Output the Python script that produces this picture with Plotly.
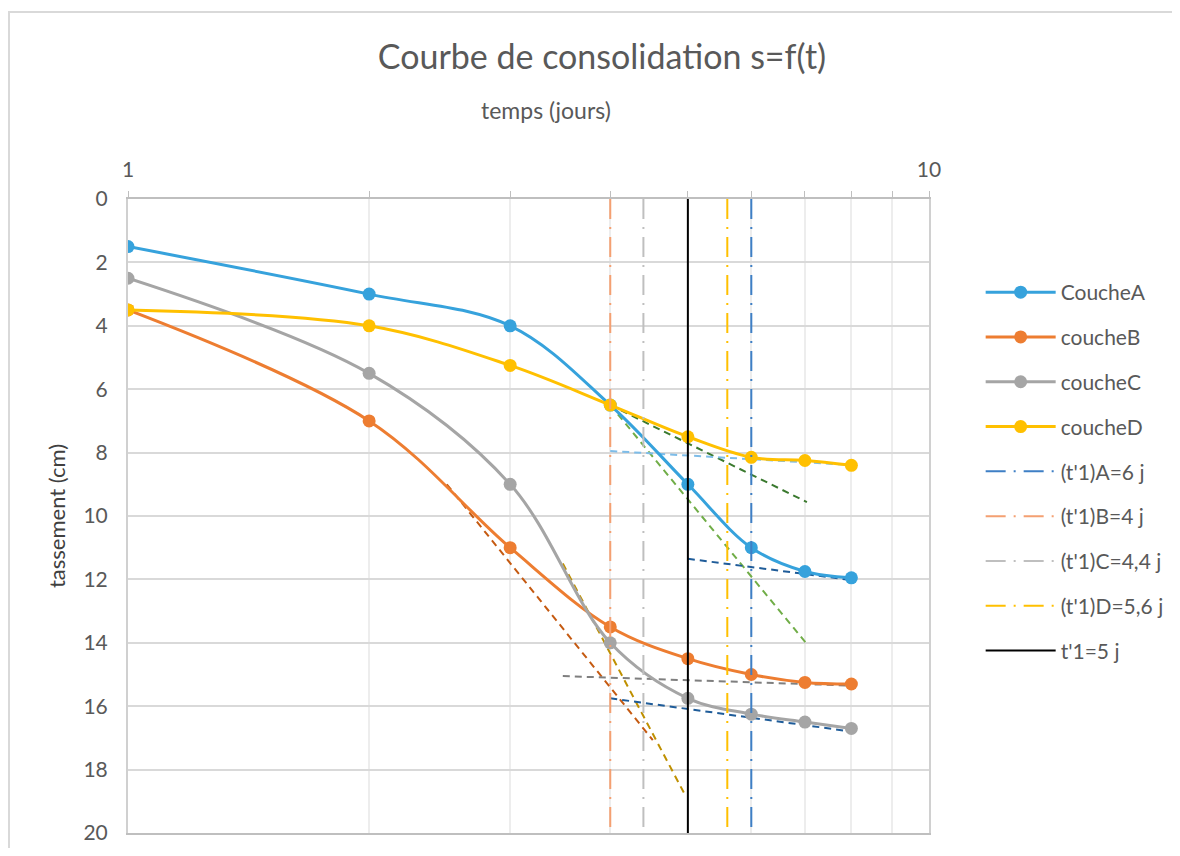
import plotly.graph_objects as go

# --- data ---
temps = [1, 2, 3, 4, 5, 6, 7, 8]
couche_a = [1.5, 3.0, 4.0, 6.5, 9.0, 11.0, 11.75, 11.95]
couche_b = [3.5, 7.0, 11.0, 13.5, 14.5, 15.0, 15.25, 15.3]
couche_c = [2.5, 5.5, 9.0, 14.0, 15.75, 16.25, 16.5, 16.7]
couche_d = [3.5, 4.0, 5.25, 6.5, 7.5, 8.15, 8.25, 8.4]

series_names = ["CoucheA", "coucheB", "coucheC", "coucheD"]
series_colors = ["#36A2DC", "#ED7D31", "#A5A5A5", "#FFC000"]

# vertical markers t'1
t1_names = ["(t'1)A=6 j", "(t'1)B=4 j", "(t'1)C=4,4 j", "(t'1)D=5,6 j", "t'1=5 j"]
t1_values = [6, 4, 4.4, 5.6, 5]
t1_colors = ["#3E7FC5", "#F4A072", "#BFBFBF", "#FFC000", "#000000"]
y_span = [0, 20]

# construction tangents (x pair, y pair)
tan_x = [[4, 7.04], [4, 7.04], [4, 8], [5, 8], [2.5, 4.52], [3.49, 4.96], [3.49, 8], [4, 8]]
tan_y = [[6.5, 9.56], [6.5, 14.04], [7.95, 8.39], [11.35, 12.02], [9.0, 17.07],
         [11.5, 18.8], [15.05, 15.35], [15.75, 16.8]]
tan_colors = ["#3B7A2F", "#70AD47", "#7DBCE8", "#1F5C99", "#C55A11",
              "#BF9000", "#7F7F7F", "#1F5C99"]

FONT = "Lato, 'Open Sans', sans-serif"
TXT = "#595959"

# page sits 8px inside the window (body margin); keep the figure inside it
W, H = 1164, 840
L, R, T, B = 120, 243, 191, 15
PW, PH = W - L - R, H - T - B

fig = go.Figure()

# tangents first so they sit under the curves
for xs, ys, col in zip(tan_x, tan_y, tan_colors):
    fig.add_trace(go.Scatter(
        x=xs, y=ys, mode="lines", showlegend=False,
        line=dict(color=col, width=2, dash="7px,5px"),
        hoverinfo="skip",
    ))

for name, ys, col in zip(series_names, [couche_a, couche_b, couche_c, couche_d], series_colors):
    fig.add_trace(go.Scatter(
        x=temps, y=ys, name=name, mode="lines+markers",
        line=dict(color=col, width=3, shape="spline", smoothing=1),
        marker=dict(color=col, size=13),
        legendgroup=name,
    ))

for name, tv, col in zip(t1_names, t1_values, t1_colors):
    solid = col == "#000000"
    fig.add_trace(go.Scatter(
        x=[tv, tv], y=y_span, name=name, mode="lines",
        line=dict(color=col, width=2, dash="solid" if solid else "20px,8px,2px,8px"),
        legendgroup=name,
    ))

# chart frame: only the left and top edges are visible in the crop
fx0 = (1 - L) / PW
fx1 = (W + 20 - L) / PW
fy0 = -40 / PH
fy1 = (H - B - 4) / PH

fig.update_layout(
    width=W, height=H,
    margin=dict(l=L, r=R, t=T, b=B, autoexpand=False),
    paper_bgcolor="white", plot_bgcolor="white",
    font=dict(family=FONT, color=TXT, size=21),
    title=dict(text="Courbe de consolidation s=f(t)", x=594 / W, xref="container",
               xanchor="center", y=1 - 49 / H, yanchor="middle",
               font=dict(family=FONT, size=34, color=TXT)),
    showlegend=True,
    legend=dict(x=1.0645, y=(H - B - 264) / PH, xanchor="left", yanchor="top",
                font=dict(family=FONT, size=21, color=TXT),
                tracegroupgap=14.5, itemwidth=70, bgcolor="rgba(0,0,0,0)"),
    annotations=[dict(text="temps (jours)", xref="paper", yref="paper",
                      x=(538 - L) / PW, y=(H - B - 102) / PH,
                      xanchor="center", yanchor="middle",
                      showarrow=False, font=dict(family=FONT, size=23, color=TXT))],
    shapes=[dict(type="path", xref="paper", yref="paper",
                 path=f"M {fx0},{fy0} L {fx0},{fy1} L {fx1},{fy1}",
                 line=dict(color="#D9D9D9", width=2), layer="below")],
)

fig.update_xaxes(
    type="log", side="top", range=[0, 1],
    tickvals=[1, 2, 3, 4, 5, 6, 7, 8, 9, 10],
    ticktext=["1", "", "", "", "", "", "", "", "", "10"],
    ticks="outside", ticklen=6, tickcolor="#BFBFBF",
    ticklabelstandoff=6,
    showgrid=True, gridcolor="#EDEDED", gridwidth=2,
    showline=True, linecolor="#BFBFBF", linewidth=2, mirror=True,
    zeroline=False, tickfont=dict(size=21, color=TXT),
)
fig.update_yaxes(
    range=[20, 0], dtick=2, tick0=0,
    ticks="", ticklabelstandoff=14,
    showgrid=True, gridcolor="#D9D9D9", gridwidth=2,
    showline=True, linecolor="#D0D0D0", linewidth=2, mirror=True,
    zeroline=False, tickfont=dict(size=21, color=TXT),
    title=dict(text="tassement (cm)", font=dict(size=22, color="#404040"), standoff=12),
)

fig.write_html("out.html")
